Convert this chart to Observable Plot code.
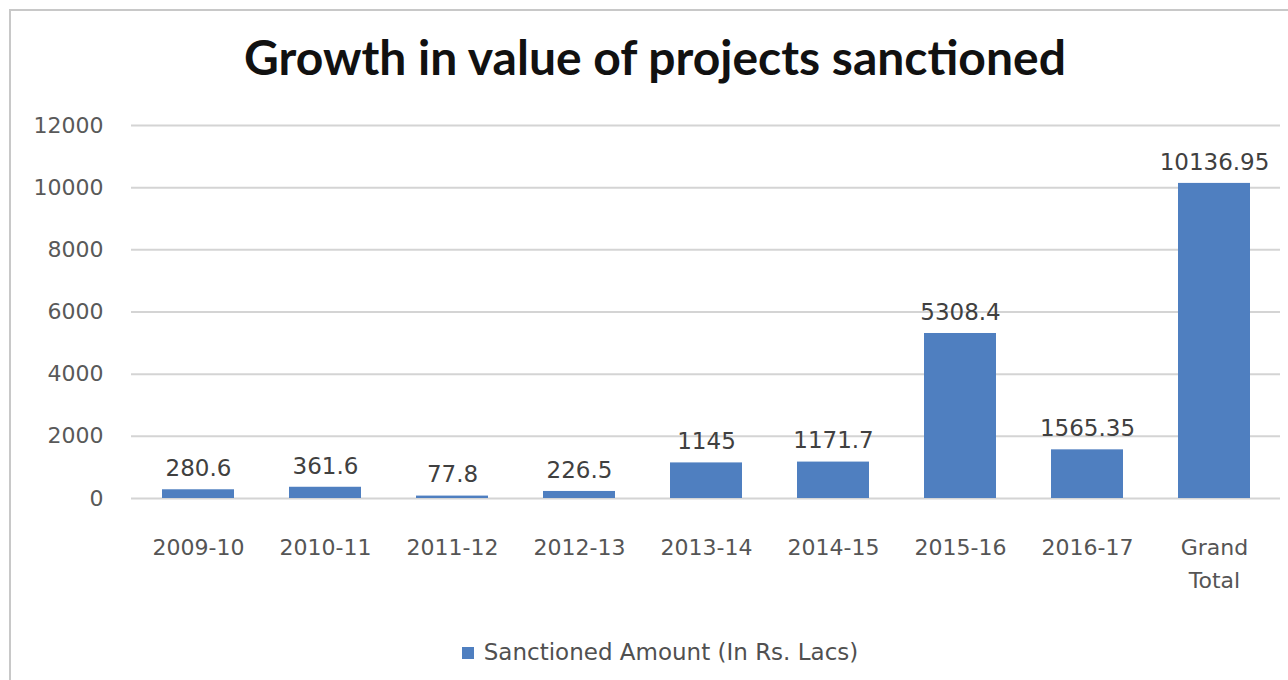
<!DOCTYPE html>
<html><head><meta charset="utf-8">
<script src="https://cdn.jsdelivr.net/npm/d3@7"></script>
<script src="https://cdn.jsdelivr.net/npm/@observablehq/plot@0.6"></script>
<style>
body{margin:0;background:#fff;width:1288px;height:680px;overflow:hidden;position:relative;font-family:Lato,sans-serif}
#frame{position:absolute;left:9px;top:9px;width:1300px;height:700px;border-left:2px solid #c8c8c8;border-top:2px solid #c8c8c8}
#title{position:absolute;left:0;width:1310px;top:33px;text-align:center;font-weight:bold;font-size:48px;line-height:1;color:#111;font-family:Lato,sans-serif}
#chart{position:absolute;left:0;top:100px}
#legend{position:absolute;top:638px;left:0;width:1320px;text-align:center;font-size:23px;line-height:28px;color:#505050;font-family:"DejaVu Sans",sans-serif}
#legend .sw{display:inline-block;width:12px;height:12px;background:#4f7fc0;margin-right:10px;vertical-align:1px}
</style></head>
<body>
<div id="frame"></div>
<div id="title">Growth in value of projects sanctioned</div>
<div id="chart"></div>
<div id="legend"><span class="sw"></span>Sanctioned Amount (In Rs. Lacs)</div>
<script>
const categories = ["2009-10","2010-11","2011-12","2012-13","2013-14","2014-15","2015-16","2016-17","Grand Total"];
const values = [280.6,361.6,77.8,226.5,1145,1171.7,5308.4,1565.35,10136.95];
const valueLabels = ["280.6","361.6","77.8","226.5","1145","1171.7","5308.4","1565.35","10136.95"];
const yTicks = [0,2000,4000,6000,8000,10000,12000];

const data = categories.map((c,i)=>({cat:c, value:values[i], label:valueLabels[i]}));

const chart = Plot.plot({
  width:1288, height:500,
  marginLeft:131, marginRight:8, marginTop:25, marginBottom:102,
  style:{fontFamily:"'DejaVu Sans', sans-serif", fontSize:"22px", background:"transparent"},
  x:{domain:categories, paddingInner:0.436, paddingOuter:0.218, label:null},
  y:{domain:[0,12000], label:null},
  marks:[
    Plot.gridY(yTicks,{stroke:"#d4d4d4", strokeOpacity:1, strokeWidth:2}),
    Plot.barY(data,{x:"cat", y:"value", fill:"#4f7fc0"}),
    Plot.text(data,{x:"cat", y:"value", text:"label", dy:-21, fill:"#404040", fontSize:23}),
    Plot.axisY(yTicks,{tickSize:0, tickPadding:28, color:"#595959", fontSize:22, tickFormat:d=>String(d)}),
    Plot.axisX({tickSize:0, tickPadding:33, color:"#555555", fontSize:22, lineHeight:1.5,
      tickFormat:d=> d==="Grand Total" ? "Grand\nTotal" : d})
  ]
});
document.getElementById("chart").appendChild(chart);
</script>
</body></html>
